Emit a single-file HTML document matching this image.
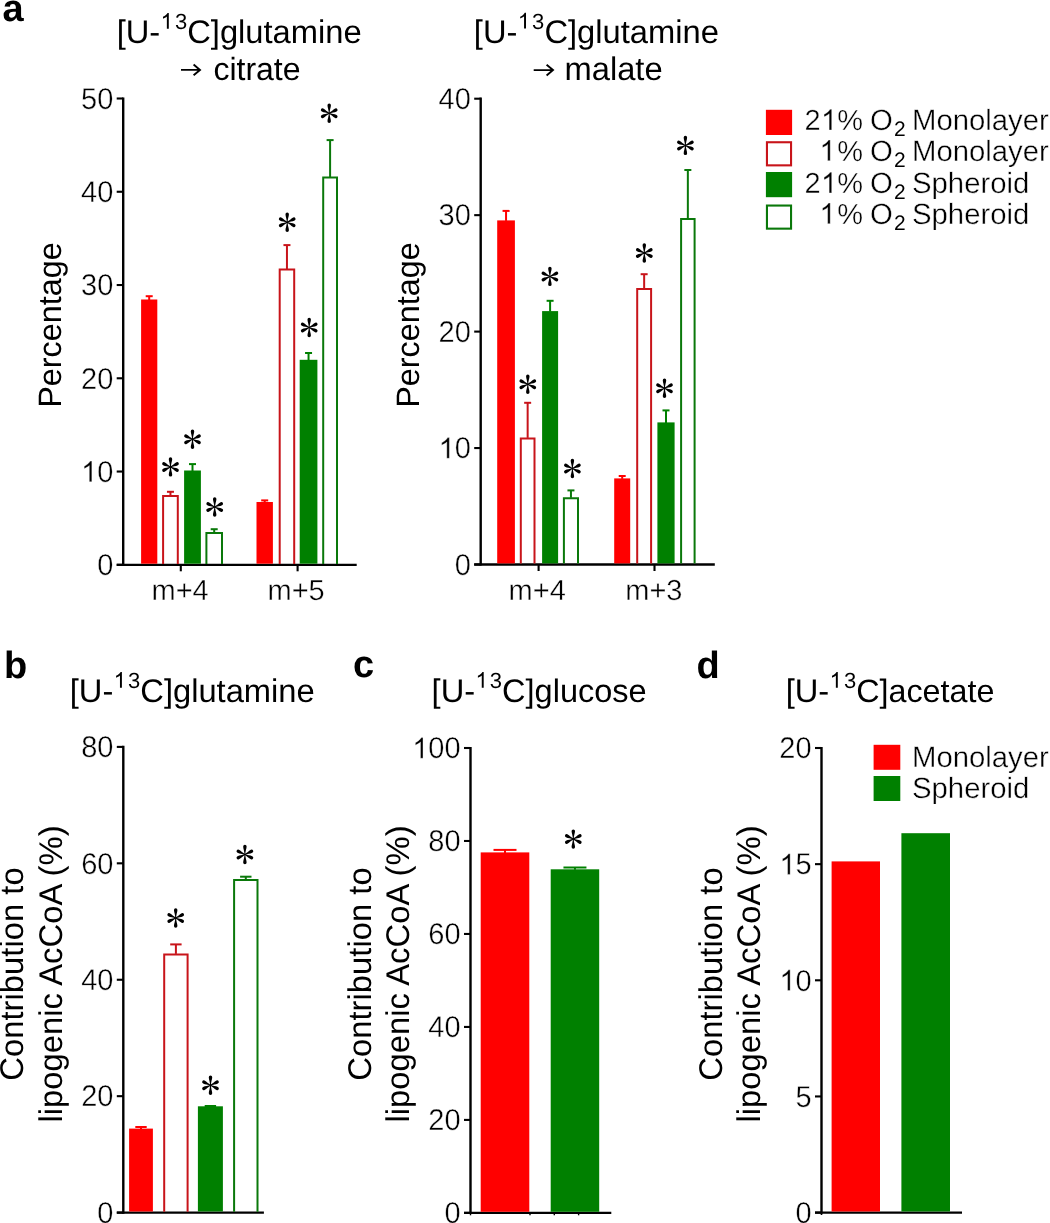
<!DOCTYPE html><html><head><meta charset="utf-8"><style>html,body{margin:0;padding:0;background:#fff;}svg{display:block;font-family:"Liberation Sans",sans-serif;text-rendering:geometricPrecision;will-change:transform;}.e{stroke:#fff;stroke-width:0.38px;}</style></head><body>
<svg width="1050" height="1223" viewBox="0 0 1050 1223">
<defs><g id="ast"><path d="M-0.42,0.3 C-0.42,-3.5 -1.72,-5.68 -1.72,-7.9799999999999995 A1.72,1.72 0 0 1 1.72,-7.9799999999999995 C1.72,-5.68 0.42,-3.5 0.42,0.3 Z" transform="rotate(0)"/><path d="M-0.42,0.3 C-0.42,-3.5 -1.72,-5.68 -1.72,-7.9799999999999995 A1.72,1.72 0 0 1 1.72,-7.9799999999999995 C1.72,-5.68 0.42,-3.5 0.42,0.3 Z" transform="rotate(180)"/><path d="M-0.42,0.3 C-0.42,-3.0 -1.68,-4.82 -1.68,-7.42 A1.68,1.68 0 0 1 1.68,-7.42 C1.68,-4.82 0.42,-3.0 0.42,0.3 Z" transform="rotate(64)"/><path d="M-0.42,0.3 C-0.42,-3.0 -1.68,-4.82 -1.68,-7.42 A1.68,1.68 0 0 1 1.68,-7.42 C1.68,-4.82 0.42,-3.0 0.42,0.3 Z" transform="rotate(116)"/><path d="M-0.42,0.3 C-0.42,-3.0 -1.68,-4.82 -1.68,-7.42 A1.68,1.68 0 0 1 1.68,-7.42 C1.68,-4.82 0.42,-3.0 0.42,0.3 Z" transform="rotate(244)"/><path d="M-0.42,0.3 C-0.42,-3.0 -1.68,-4.82 -1.68,-7.42 A1.68,1.68 0 0 1 1.68,-7.42 C1.68,-4.82 0.42,-3.0 0.42,0.3 Z" transform="rotate(296)"/></g></defs>
<rect width="1050" height="1223" fill="#fff"/>
<text x="2.50" y="20.90" font-size="38" font-weight="bold">a</text>
<text x="4.10" y="677.60" font-size="38" font-weight="bold">b</text>
<text x="352.90" y="677.40" font-size="38" font-weight="bold">c</text>
<text x="696.60" y="677.60" font-size="38" font-weight="bold">d</text>
<text x="116.67" y="42.60" font-size="32.7">[U-</text>
<path d="M763,0 L583,0 L583,1147 Q518,1085 412.5,1023 Q307,961 223,930 L223,1104 Q374,1175 487,1276 Q600,1377 647,1466 L763,1466 Z" transform="translate(160.60,28.70) scale(0.01074,-0.01074)"/>
<text x="174.90" y="28.70" font-size="22">3</text>
<text x="187.20" y="42.60" font-size="32.7">C]glutamine</text>
<path d="M181.00,69.90 H199.80 M193.60,64.60 L200.00,69.90 L193.60,75.20" fill="none" stroke="#000" stroke-width="1.9"/>
<text x="213.40" y="80.00" font-size="32.0">citrate</text>
<text x="473.87" y="42.50" font-size="32.7">[U-</text>
<path d="M763,0 L583,0 L583,1147 Q518,1085 412.5,1023 Q307,961 223,930 L223,1104 Q374,1175 487,1276 Q600,1377 647,1466 L763,1466 Z" transform="translate(517.80,28.60) scale(0.01074,-0.01074)"/>
<text x="532.10" y="28.60" font-size="22">3</text>
<text x="544.40" y="42.50" font-size="32.7">C]glutamine</text>
<path d="M533.70,70.10 H552.80 M546.60,64.80 L553.00,70.10 L546.60,75.40" fill="none" stroke="#000" stroke-width="1.9"/>
<text x="564.50" y="79.90" font-size="32.7">malate</text>
<text x="69.77" y="701.60" font-size="32.7">[U-</text>
<path d="M763,0 L583,0 L583,1147 Q518,1085 412.5,1023 Q307,961 223,930 L223,1104 Q374,1175 487,1276 Q600,1377 647,1466 L763,1466 Z" transform="translate(113.70,687.70) scale(0.01074,-0.01074)"/>
<text x="128.00" y="687.70" font-size="22">3</text>
<text x="140.30" y="701.60" font-size="32.7">C]glutamine</text>
<text x="431.57" y="701.60" font-size="32.7">[U-</text>
<path d="M763,0 L583,0 L583,1147 Q518,1085 412.5,1023 Q307,961 223,930 L223,1104 Q374,1175 487,1276 Q600,1377 647,1466 L763,1466 Z" transform="translate(475.50,687.70) scale(0.01074,-0.01074)"/>
<text x="489.80" y="687.70" font-size="22">3</text>
<text x="502.10" y="701.60" font-size="32.5">C]glucose</text>
<text x="785.67" y="701.60" font-size="32.7">[U-</text>
<path d="M763,0 L583,0 L583,1147 Q518,1085 412.5,1023 Q307,961 223,930 L223,1104 Q374,1175 487,1276 Q600,1377 647,1466 L763,1466 Z" transform="translate(829.60,687.70) scale(0.01074,-0.01074)"/>
<text x="843.90" y="687.70" font-size="22">3</text>
<text x="856.20" y="701.60" font-size="32.3">C]acetate</text>
<line x1="123.20" y1="97.40" x2="123.20" y2="565.90" stroke="#000" stroke-width="2.4"/>
<line x1="116.70" y1="564.80" x2="123.20" y2="564.80" stroke="#000" stroke-width="2.1"/>
<text transform="translate(113.30,575.10) scale(1,1.04)" font-size="29" text-anchor="end" class="e">0</text>
<line x1="116.70" y1="471.54" x2="123.20" y2="471.54" stroke="#000" stroke-width="2.1"/>
<path d="M763,0 L583,0 L583,1147 Q518,1085 412.5,1023 Q307,961 223,930 L223,1104 Q374,1175 487,1276 Q600,1377 647,1466 L763,1466 Z" transform="translate(81.04,481.84) scale(0.01416,-0.01416)" stroke="#fff" stroke-width="26.8"/>
<text transform="translate(113.30,481.84) scale(1,1.04)" font-size="29" text-anchor="end" class="e">0</text>
<line x1="116.70" y1="378.28" x2="123.20" y2="378.28" stroke="#000" stroke-width="2.1"/>
<text transform="translate(113.30,388.58) scale(1,1.04)" font-size="29" text-anchor="end" class="e">20</text>
<line x1="116.70" y1="285.02" x2="123.20" y2="285.02" stroke="#000" stroke-width="2.1"/>
<text transform="translate(113.30,295.32) scale(1,1.04)" font-size="29" text-anchor="end" class="e">30</text>
<line x1="116.70" y1="191.76" x2="123.20" y2="191.76" stroke="#000" stroke-width="2.1"/>
<text transform="translate(113.30,202.06) scale(1,1.04)" font-size="29" text-anchor="end" class="e">40</text>
<line x1="116.70" y1="98.50" x2="123.20" y2="98.50" stroke="#000" stroke-width="2.1"/>
<text transform="translate(113.30,108.80) scale(1,1.04)" font-size="29" text-anchor="end" class="e">50</text>
<line x1="116.70" y1="564.80" x2="356.70" y2="564.80" stroke="#000" stroke-width="2.3"/>
<line x1="180.80" y1="564.80" x2="180.80" y2="571.30" stroke="#000" stroke-width="2.1"/>
<line x1="297.60" y1="564.80" x2="297.60" y2="571.30" stroke="#000" stroke-width="2.1"/>
<text x="180.10" y="599.50" font-size="29" text-anchor="middle" class="e">m+4</text>
<text x="296.10" y="599.50" font-size="29" text-anchor="middle" class="e">m+5</text>
<text transform="translate(61,325) rotate(-90)" font-size="32.4" text-anchor="middle">Percentage</text>
<rect x="141.10" y="299.50" width="16.20" height="264.20" fill="#ff0000"/>
<line x1="149.20" y1="300.00" x2="149.20" y2="296.20" stroke="#ff0000" stroke-width="2.0"/>
<line x1="145.70" y1="296.20" x2="152.70" y2="296.20" stroke="#ff0000" stroke-width="2.0"/>
<path d="M163.10,563.90 V496.00 H177.80 V563.90" fill="none" stroke="#c8141a" stroke-width="2.0"/>
<line x1="170.45" y1="495.50" x2="170.45" y2="491.80" stroke="#c8141a" stroke-width="2.0"/>
<line x1="166.95" y1="491.80" x2="173.95" y2="491.80" stroke="#c8141a" stroke-width="2.0"/>
<rect x="184.10" y="470.50" width="16.80" height="93.20" fill="#008000"/>
<line x1="192.50" y1="471.00" x2="192.50" y2="464.10" stroke="#008000" stroke-width="2.0"/>
<line x1="189.00" y1="464.10" x2="196.00" y2="464.10" stroke="#008000" stroke-width="2.0"/>
<path d="M206.40,563.90 V532.90 H222.00 V563.90" fill="none" stroke="#0a780a" stroke-width="2.0"/>
<line x1="214.20" y1="532.40" x2="214.20" y2="529.20" stroke="#0a780a" stroke-width="2.0"/>
<line x1="210.70" y1="529.20" x2="217.70" y2="529.20" stroke="#0a780a" stroke-width="2.0"/>
<rect x="256.50" y="502.00" width="16.40" height="61.70" fill="#ff0000"/>
<line x1="264.70" y1="502.50" x2="264.70" y2="500.40" stroke="#ff0000" stroke-width="2.0"/>
<line x1="261.20" y1="500.40" x2="268.20" y2="500.40" stroke="#ff0000" stroke-width="2.0"/>
<path d="M279.70,563.90 V269.60 H294.20 V563.90" fill="none" stroke="#c8141a" stroke-width="2.0"/>
<line x1="286.95" y1="269.10" x2="286.95" y2="245.10" stroke="#c8141a" stroke-width="2.0"/>
<line x1="283.45" y1="245.10" x2="290.45" y2="245.10" stroke="#c8141a" stroke-width="2.0"/>
<rect x="299.70" y="359.80" width="17.70" height="203.90" fill="#008000"/>
<line x1="308.55" y1="360.30" x2="308.55" y2="353.00" stroke="#008000" stroke-width="2.0"/>
<line x1="305.05" y1="353.00" x2="312.05" y2="353.00" stroke="#008000" stroke-width="2.0"/>
<path d="M323.20,563.90 V177.60 H337.00 V563.90" fill="none" stroke="#0a780a" stroke-width="2.0"/>
<line x1="330.10" y1="177.10" x2="330.10" y2="140.10" stroke="#0a780a" stroke-width="2.0"/>
<line x1="326.60" y1="140.10" x2="333.60" y2="140.10" stroke="#0a780a" stroke-width="2.0"/>
<use href="#ast" x="170.50" y="466.90"/>
<use href="#ast" x="192.50" y="439.30"/>
<use href="#ast" x="214.70" y="507.00"/>
<use href="#ast" x="287.20" y="222.20"/>
<use href="#ast" x="309.20" y="327.50"/>
<use href="#ast" x="329.20" y="113.20"/>
<line x1="480.70" y1="97.60" x2="480.70" y2="565.60" stroke="#000" stroke-width="2.4"/>
<line x1="474.20" y1="564.50" x2="480.70" y2="564.50" stroke="#000" stroke-width="2.1"/>
<text transform="translate(470.80,574.80) scale(1,1.04)" font-size="29" text-anchor="end" class="e">0</text>
<line x1="474.20" y1="448.05" x2="480.70" y2="448.05" stroke="#000" stroke-width="2.1"/>
<path d="M763,0 L583,0 L583,1147 Q518,1085 412.5,1023 Q307,961 223,930 L223,1104 Q374,1175 487,1276 Q600,1377 647,1466 L763,1466 Z" transform="translate(438.54,458.35) scale(0.01416,-0.01416)" stroke="#fff" stroke-width="26.8"/>
<text transform="translate(470.80,458.35) scale(1,1.04)" font-size="29" text-anchor="end" class="e">0</text>
<line x1="474.20" y1="331.60" x2="480.70" y2="331.60" stroke="#000" stroke-width="2.1"/>
<text transform="translate(470.80,341.90) scale(1,1.04)" font-size="29" text-anchor="end" class="e">20</text>
<line x1="474.20" y1="215.15" x2="480.70" y2="215.15" stroke="#000" stroke-width="2.1"/>
<text transform="translate(470.80,225.45) scale(1,1.04)" font-size="29" text-anchor="end" class="e">30</text>
<line x1="474.20" y1="98.70" x2="480.70" y2="98.70" stroke="#000" stroke-width="2.1"/>
<text transform="translate(470.80,109.00) scale(1,1.04)" font-size="29" text-anchor="end" class="e">40</text>
<line x1="474.20" y1="564.50" x2="714.80" y2="564.50" stroke="#000" stroke-width="2.3"/>
<line x1="538.60" y1="564.50" x2="538.60" y2="571.00" stroke="#000" stroke-width="2.1"/>
<line x1="654.50" y1="564.50" x2="654.50" y2="571.00" stroke="#000" stroke-width="2.1"/>
<text x="537.20" y="599.50" font-size="29" text-anchor="middle" class="e">m+4</text>
<text x="653.90" y="599.50" font-size="29" text-anchor="middle" class="e">m+3</text>
<text transform="translate(418.6,325) rotate(-90)" font-size="32.4" text-anchor="middle">Percentage</text>
<rect x="497.20" y="220.40" width="17.70" height="343.00" fill="#ff0000"/>
<line x1="506.05" y1="220.90" x2="506.05" y2="210.90" stroke="#ff0000" stroke-width="2.0"/>
<line x1="502.55" y1="210.90" x2="509.55" y2="210.90" stroke="#ff0000" stroke-width="2.0"/>
<path d="M520.80,563.60 V438.40 H534.50 V563.60" fill="none" stroke="#c8141a" stroke-width="2.0"/>
<line x1="527.65" y1="437.90" x2="527.65" y2="402.80" stroke="#c8141a" stroke-width="2.0"/>
<line x1="524.15" y1="402.80" x2="531.15" y2="402.80" stroke="#c8141a" stroke-width="2.0"/>
<rect x="542.10" y="311.10" width="16.00" height="252.30" fill="#008000"/>
<line x1="550.10" y1="311.60" x2="550.10" y2="300.80" stroke="#008000" stroke-width="2.0"/>
<line x1="546.60" y1="300.80" x2="553.60" y2="300.80" stroke="#008000" stroke-width="2.0"/>
<path d="M563.90,563.60 V498.30 H578.00 V563.60" fill="none" stroke="#0a780a" stroke-width="2.0"/>
<line x1="570.95" y1="497.80" x2="570.95" y2="490.40" stroke="#0a780a" stroke-width="2.0"/>
<line x1="567.45" y1="490.40" x2="574.45" y2="490.40" stroke="#0a780a" stroke-width="2.0"/>
<rect x="614.20" y="478.40" width="16.00" height="85.00" fill="#ff0000"/>
<line x1="622.20" y1="478.90" x2="622.20" y2="476.00" stroke="#ff0000" stroke-width="2.0"/>
<line x1="618.70" y1="476.00" x2="625.70" y2="476.00" stroke="#ff0000" stroke-width="2.0"/>
<path d="M637.20,563.60 V288.90 H651.10 V563.60" fill="none" stroke="#c8141a" stroke-width="2.0"/>
<line x1="644.15" y1="288.40" x2="644.15" y2="274.20" stroke="#c8141a" stroke-width="2.0"/>
<line x1="640.65" y1="274.20" x2="647.65" y2="274.20" stroke="#c8141a" stroke-width="2.0"/>
<rect x="657.40" y="422.40" width="17.20" height="141.00" fill="#008000"/>
<line x1="666.00" y1="422.90" x2="666.00" y2="410.40" stroke="#008000" stroke-width="2.0"/>
<line x1="662.50" y1="410.40" x2="669.50" y2="410.40" stroke="#008000" stroke-width="2.0"/>
<path d="M681.10,563.60 V218.90 H694.60 V563.60" fill="none" stroke="#0a780a" stroke-width="2.0"/>
<line x1="687.85" y1="218.40" x2="687.85" y2="170.00" stroke="#0a780a" stroke-width="2.0"/>
<line x1="684.35" y1="170.00" x2="691.35" y2="170.00" stroke="#0a780a" stroke-width="2.0"/>
<use href="#ast" x="527.80" y="384.20"/>
<use href="#ast" x="549.90" y="276.40"/>
<use href="#ast" x="572.40" y="468.50"/>
<use href="#ast" x="644.30" y="253.00"/>
<use href="#ast" x="664.50" y="388.30"/>
<use href="#ast" x="685.40" y="145.40"/>
<rect x="765.9" y="109.80" width="26.2" height="25.2" fill="#ff0000"/>
<text x="804.40" y="130.00" font-size="29" class="e">2</text>
<path d="M763,0 L583,0 L583,1147 Q518,1085 412.5,1023 Q307,961 223,930 L223,1104 Q374,1175 487,1276 Q600,1377 647,1466 L763,1466 Z" transform="translate(820.90,130.00) scale(0.01416,-0.01416)" stroke="#fff" stroke-width="26.8"/>
<text x="837.30" y="130.00" font-size="29" class="e">%</text>
<text x="870.00" y="130.00" font-size="29.3" class="e">O</text>
<text x="893.90" y="136.40" font-size="21">2</text>
<text x="912.00" y="130.00" font-size="29.3" class="e">Monolayer</text>
<rect x="766.95" y="142.25" width="24.1" height="23.1" fill="none" stroke="#c8141a" stroke-width="2.1"/>
<path d="M763,0 L583,0 L583,1147 Q518,1085 412.5,1023 Q307,961 223,930 L223,1104 Q374,1175 487,1276 Q600,1377 647,1466 L763,1466 Z" transform="translate(819.40,160.70) scale(0.01416,-0.01416)" stroke="#fff" stroke-width="26.8"/>
<text x="837.30" y="160.70" font-size="29" class="e">%</text>
<text x="870.00" y="160.70" font-size="29.3" class="e">O</text>
<text x="893.90" y="167.10" font-size="21">2</text>
<text x="912.00" y="160.70" font-size="29.3" class="e">Monolayer</text>
<rect x="765.9" y="172.00" width="26.2" height="25.2" fill="#008000"/>
<text x="804.40" y="192.90" font-size="29" class="e">2</text>
<path d="M763,0 L583,0 L583,1147 Q518,1085 412.5,1023 Q307,961 223,930 L223,1104 Q374,1175 487,1276 Q600,1377 647,1466 L763,1466 Z" transform="translate(820.90,192.90) scale(0.01416,-0.01416)" stroke="#fff" stroke-width="26.8"/>
<text x="837.30" y="192.90" font-size="29" class="e">%</text>
<text x="870.00" y="192.90" font-size="29.3" class="e">O</text>
<text x="893.90" y="199.30" font-size="21">2</text>
<text x="912.00" y="192.90" font-size="29.3" class="e">Spheroid</text>
<rect x="766.95" y="205.55" width="24.1" height="23.1" fill="none" stroke="#0a780a" stroke-width="2.1"/>
<path d="M763,0 L583,0 L583,1147 Q518,1085 412.5,1023 Q307,961 223,930 L223,1104 Q374,1175 487,1276 Q600,1377 647,1466 L763,1466 Z" transform="translate(819.40,223.70) scale(0.01416,-0.01416)" stroke="#fff" stroke-width="26.8"/>
<text x="837.30" y="223.70" font-size="29" class="e">%</text>
<text x="870.00" y="223.70" font-size="29.3" class="e">O</text>
<text x="893.90" y="230.10" font-size="21">2</text>
<text x="912.00" y="223.70" font-size="29.3" class="e">Spheroid</text>
<line x1="123.30" y1="745.80" x2="123.30" y2="1213.70" stroke="#000" stroke-width="2.4"/>
<line x1="116.80" y1="1212.60" x2="123.30" y2="1212.60" stroke="#000" stroke-width="2.1"/>
<text transform="translate(113.40,1222.90) scale(1,1.04)" font-size="29" text-anchor="end" class="e">0</text>
<line x1="116.80" y1="1096.17" x2="123.30" y2="1096.17" stroke="#000" stroke-width="2.1"/>
<text transform="translate(113.40,1106.47) scale(1,1.04)" font-size="29" text-anchor="end" class="e">20</text>
<line x1="116.80" y1="979.75" x2="123.30" y2="979.75" stroke="#000" stroke-width="2.1"/>
<text transform="translate(113.40,990.05) scale(1,1.04)" font-size="29" text-anchor="end" class="e">40</text>
<line x1="116.80" y1="863.32" x2="123.30" y2="863.32" stroke="#000" stroke-width="2.1"/>
<text transform="translate(113.40,873.62) scale(1,1.04)" font-size="29" text-anchor="end" class="e">60</text>
<line x1="116.80" y1="746.90" x2="123.30" y2="746.90" stroke="#000" stroke-width="2.1"/>
<text transform="translate(113.40,757.20) scale(1,1.04)" font-size="29" text-anchor="end" class="e">80</text>
<line x1="116.80" y1="1212.60" x2="263.90" y2="1212.60" stroke="#000" stroke-width="2.3"/>
<text transform="translate(22.90,974.00) rotate(-90)" font-size="32.8" text-anchor="middle">Contribution to</text>
<text transform="translate(61.80,974.00) rotate(-90)" font-size="32.8" text-anchor="middle">lipogenic AcCoA (%)</text>
<rect x="129.10" y="1128.60" width="23.80" height="82.90" fill="#ff0000"/>
<line x1="141.00" y1="1129.10" x2="141.00" y2="1127.00" stroke="#ff0000" stroke-width="2.0"/>
<line x1="135.30" y1="1127.00" x2="146.70" y2="1127.00" stroke="#ff0000" stroke-width="2.0"/>
<path d="M164.20,1211.70 V954.40 H187.60 V1211.70" fill="none" stroke="#c8141a" stroke-width="2.0"/>
<line x1="175.90" y1="953.90" x2="175.90" y2="944.40" stroke="#c8141a" stroke-width="2.0"/>
<line x1="170.20" y1="944.40" x2="181.60" y2="944.40" stroke="#c8141a" stroke-width="2.0"/>
<rect x="197.90" y="1106.30" width="25.00" height="105.20" fill="#008000"/>
<line x1="210.40" y1="1106.80" x2="210.40" y2="1106.00" stroke="#008000" stroke-width="2.0"/>
<line x1="204.70" y1="1106.00" x2="216.10" y2="1106.00" stroke="#008000" stroke-width="2.0"/>
<path d="M234.10,1211.70 V880.10 H257.50 V1211.70" fill="none" stroke="#0a780a" stroke-width="2.0"/>
<line x1="245.80" y1="879.60" x2="245.80" y2="876.70" stroke="#0a780a" stroke-width="2.0"/>
<line x1="240.10" y1="876.70" x2="251.50" y2="876.70" stroke="#0a780a" stroke-width="2.0"/>
<use href="#ast" x="175.70" y="918.00"/>
<use href="#ast" x="210.50" y="1085.20"/>
<use href="#ast" x="244.90" y="854.50"/>
<line x1="470.50" y1="746.90" x2="470.50" y2="1214.00" stroke="#000" stroke-width="2.4"/>
<line x1="464.00" y1="1212.90" x2="470.50" y2="1212.90" stroke="#000" stroke-width="2.1"/>
<text transform="translate(460.60,1223.20) scale(1,1.04)" font-size="29" text-anchor="end" class="e">0</text>
<line x1="464.00" y1="1119.92" x2="470.50" y2="1119.92" stroke="#000" stroke-width="2.1"/>
<text transform="translate(460.60,1130.22) scale(1,1.04)" font-size="29" text-anchor="end" class="e">20</text>
<line x1="464.00" y1="1026.94" x2="470.50" y2="1026.94" stroke="#000" stroke-width="2.1"/>
<text transform="translate(460.60,1037.24) scale(1,1.04)" font-size="29" text-anchor="end" class="e">40</text>
<line x1="464.00" y1="933.96" x2="470.50" y2="933.96" stroke="#000" stroke-width="2.1"/>
<text transform="translate(460.60,944.26) scale(1,1.04)" font-size="29" text-anchor="end" class="e">60</text>
<line x1="464.00" y1="840.98" x2="470.50" y2="840.98" stroke="#000" stroke-width="2.1"/>
<text transform="translate(460.60,851.28) scale(1,1.04)" font-size="29" text-anchor="end" class="e">80</text>
<line x1="464.00" y1="748.00" x2="470.50" y2="748.00" stroke="#000" stroke-width="2.1"/>
<path d="M763,0 L583,0 L583,1147 Q518,1085 412.5,1023 Q307,961 223,930 L223,1104 Q374,1175 487,1276 Q600,1377 647,1466 L763,1466 Z" transform="translate(412.21,758.30) scale(0.01416,-0.01416)" stroke="#fff" stroke-width="26.8"/>
<text transform="translate(460.60,758.30) scale(1,1.04)" font-size="29" text-anchor="end" class="e">00</text>
<line x1="464.00" y1="1212.90" x2="611.30" y2="1212.90" stroke="#000" stroke-width="2.3"/>
<text transform="translate(371.40,974.00) rotate(-90)" font-size="32.8" text-anchor="middle">Contribution to</text>
<text transform="translate(409.40,974.00) rotate(-90)" font-size="32.8" text-anchor="middle">lipogenic AcCoA (%)</text>
<rect x="480.70" y="852.40" width="48.60" height="359.40" fill="#ff0000"/>
<line x1="505.00" y1="852.90" x2="505.00" y2="849.90" stroke="#ff0000" stroke-width="2.0"/>
<line x1="493.50" y1="849.90" x2="516.50" y2="849.90" stroke="#ff0000" stroke-width="2.0"/>
<rect x="550.70" y="869.30" width="48.50" height="342.50" fill="#008000"/>
<line x1="574.95" y1="869.80" x2="574.95" y2="867.50" stroke="#008000" stroke-width="2.0"/>
<line x1="563.45" y1="867.50" x2="586.45" y2="867.50" stroke="#008000" stroke-width="2.0"/>
<use href="#ast" x="573.30" y="839.10"/>
<line x1="470.50" y1="1213.90" x2="470.50" y2="1215.30" stroke="#000" stroke-width="1.4"/>
<line x1="530.00" y1="1213.90" x2="530.00" y2="1215.30" stroke="#000" stroke-width="1.4"/>
<line x1="554.30" y1="1213.90" x2="554.30" y2="1215.30" stroke="#000" stroke-width="1.4"/>
<line x1="578.60" y1="1213.90" x2="578.60" y2="1215.30" stroke="#000" stroke-width="1.4"/>
<line x1="821.50" y1="746.90" x2="821.50" y2="1213.70" stroke="#000" stroke-width="2.4"/>
<line x1="815.00" y1="1212.60" x2="821.50" y2="1212.60" stroke="#000" stroke-width="2.1"/>
<text transform="translate(811.60,1222.90) scale(1,1.04)" font-size="29" text-anchor="end" class="e">0</text>
<line x1="815.00" y1="1096.45" x2="821.50" y2="1096.45" stroke="#000" stroke-width="2.1"/>
<text transform="translate(811.60,1106.75) scale(1,1.04)" font-size="29" text-anchor="end" class="e">5</text>
<line x1="815.00" y1="980.30" x2="821.50" y2="980.30" stroke="#000" stroke-width="2.1"/>
<path d="M763,0 L583,0 L583,1147 Q518,1085 412.5,1023 Q307,961 223,930 L223,1104 Q374,1175 487,1276 Q600,1377 647,1466 L763,1466 Z" transform="translate(779.34,990.60) scale(0.01416,-0.01416)" stroke="#fff" stroke-width="26.8"/>
<text transform="translate(811.60,990.60) scale(1,1.04)" font-size="29" text-anchor="end" class="e">0</text>
<line x1="815.00" y1="864.15" x2="821.50" y2="864.15" stroke="#000" stroke-width="2.1"/>
<path d="M763,0 L583,0 L583,1147 Q518,1085 412.5,1023 Q307,961 223,930 L223,1104 Q374,1175 487,1276 Q600,1377 647,1466 L763,1466 Z" transform="translate(779.34,874.45) scale(0.01416,-0.01416)" stroke="#fff" stroke-width="26.8"/>
<text transform="translate(811.60,874.45) scale(1,1.04)" font-size="29" text-anchor="end" class="e">5</text>
<line x1="815.00" y1="748.00" x2="821.50" y2="748.00" stroke="#000" stroke-width="2.1"/>
<text transform="translate(811.60,758.30) scale(1,1.04)" font-size="29" text-anchor="end" class="e">20</text>
<line x1="815.00" y1="1212.60" x2="962.00" y2="1212.60" stroke="#000" stroke-width="2.3"/>
<text transform="translate(721.90,974.00) rotate(-90)" font-size="32.8" text-anchor="middle">Contribution to</text>
<text transform="translate(760.10,974.00) rotate(-90)" font-size="32.8" text-anchor="middle">lipogenic AcCoA (%)</text>
<rect x="831.60" y="861.40" width="48.40" height="350.10" fill="#ff0000"/>
<rect x="901.40" y="833.20" width="48.60" height="378.30" fill="#008000"/>
<line x1="821.50" y1="1213.60" x2="821.50" y2="1215.00" stroke="#000" stroke-width="1.6"/>
<rect x="873.6" y="744.8" width="26.7" height="25.0" fill="#ff0000"/>
<rect x="873.6" y="776.0" width="26.7" height="25.0" fill="#008000"/>
<text x="912.00" y="766.50" font-size="29.3" class="e">Monolayer</text>
<text x="912.00" y="797.90" font-size="29.3" class="e">Spheroid</text>
</svg></body></html>
